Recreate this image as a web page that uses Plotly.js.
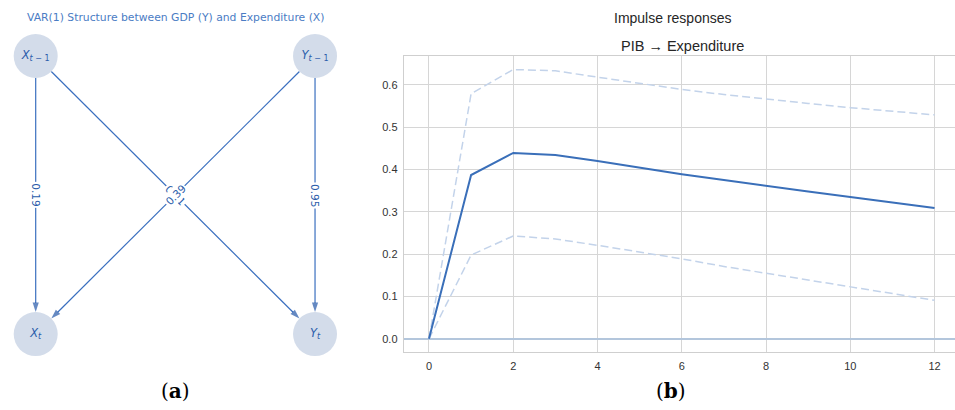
<!DOCTYPE html>
<html>
<head>
<meta charset="utf-8">
<script src="https://cdn.plot.ly/plotly-3.0.1.min.js"></script>
<style>html,body{margin:0;padding:0;background:#fff;overflow:hidden}#chart{width:955px;height:410px}</style>
</head>
<body>
<div id="chart"></div>
<script>
// ---------- Data: impulse responses (PIB -> Expenditure) ----------
const horizons = [0, 1, 2, 3, 4, 5, 6, 7, 8, 9, 10, 11, 12];
const irfMean  = [0, 0.387, 0.439, 0.434, 0.420, 0.404, 0.389, 0.375, 0.361, 0.348, 0.335, 0.322, 0.309];
const irfUpper = [0, 0.579, 0.636, 0.633, 0.618, 0.603, 0.589, 0.577, 0.566, 0.556, 0.546, 0.537, 0.529];
const irfLower = [0, 0.198, 0.243, 0.236, 0.221, 0.205, 0.189, 0.171, 0.155, 0.138, 0.122, 0.106, 0.091];
const xTicks = [0, 2, 4, 6, 8, 10, 12];
const yTicks = [0.0, 0.1, 0.2, 0.3, 0.4, 0.5, 0.6];

// ---------- Data: VAR(1) graph ----------
const nodeLabels = ['<i>X</i><sub><i>t</i> − 1</sub>', '<i>Y</i><sub><i>t</i> − 1</sub>', '<i>X</i><sub><i>t</i></sub>', '<i>Y</i><sub><i>t</i></sub>'];
const nodeX = [0, 1, 0, 1];
const nodeY = [1, 1, 0, 0];
const edgeFrom   = [0, 1, 0, 1];
const edgeTo     = [2, 3, 3, 2];
const edgeWeight = ['0.19', '0.95', '0.01', '0.39'];

const diagramTitle = 'VAR(1) Structure between GDP (Y) and Expenditure (X)';
const mainTitle = 'Impulse responses';
const subTitle = 'PIB → Expenditure';

// ---------- Layout helpers ----------
const W = 955, H = 410;
const px = v => v / W;
const py = v => 1 - v / H;

const blue = '#2a5caa';
const diagFont = 'DejaVu Sans, sans-serif';
const plotFont = 'Liberation Sans, Arial, sans-serif';

// diagram axes (graph layout units)
const x2Range = [-0.1278, 1.161];
const y2Range = [-0.273, 1.2014];
const x2Px = 360, y2Px = H;
const nodeRadiusPx = 22;
const rX = nodeRadiusPx * (x2Range[1] - x2Range[0]) / x2Px;
const rY = nodeRadiusPx * (y2Range[1] - y2Range[0]) / y2Px;

const traces = [
  {x: horizons, y: irfUpper, xaxis: 'x', yaxis: 'y', mode: 'lines',
   line: {color: '#c3d3ea', width: 1.5, dash: '8px,4px'}, hoverinfo: 'skip', showlegend: false},
  {x: horizons, y: irfLower, xaxis: 'x', yaxis: 'y', mode: 'lines',
   line: {color: '#c3d3ea', width: 1.5, dash: '8px,4px'}, hoverinfo: 'skip', showlegend: false},
  {x: horizons, y: irfMean, xaxis: 'x', yaxis: 'y', mode: 'lines',
   line: {color: '#3a6fb9', width: 2}, showlegend: false}
];

// edges: line from node boundary to node boundary, arrow marker at the end
for (let i = 0; i < edgeFrom.length; i++) {
  const a = edgeFrom[i], b = edgeTo[i];
  const dxp = (nodeX[b] - nodeX[a]) * x2Px / (x2Range[1] - x2Range[0]);
  const dyp = (nodeY[b] - nodeY[a]) * y2Px / (y2Range[1] - y2Range[0]);
  const len = Math.hypot(dxp, dyp);
  const ux = dxp / len, uy = dyp / len;
  const x0 = nodeX[a] + ux * rX, y0 = nodeY[a] + uy * rY;
  const x1 = nodeX[b] - ux * rX, y1 = nodeY[b] - uy * rY;
  traces.push({
    x: [x0, x1], y: [y0, y1], xaxis: 'x2', yaxis: 'y2', mode: 'lines+markers',
    line: {color: '#3a6fbf', width: 1.2},
    marker: {symbol: ['circle', 'arrow'], size: [0, 10], color: '#2457a8', angleref: 'previous', line: {width: 0}},
    hoverinfo: 'skip', showlegend: false, cliponaxis: false
  });
}

traces.push({x: nodeX, y: nodeY, xaxis: 'x2', yaxis: 'y2', mode: 'markers+text',
   text: nodeLabels, textposition: 'middle center',
   textfont: {family: diagFont, size: 11.5, color: blue},
   marker: {size: 2 * nodeRadiusPx, color: '#d3dcea', line: {width: 0}}, hoverinfo: 'skip', showlegend: false});

const annotations = [];
// edge labels
for (let i = 0; i < edgeFrom.length; i++) {
  const a = edgeFrom[i], b = edgeTo[i];
  const dx = nodeX[b] - nodeX[a], dy = nodeY[b] - nodeY[a];
  let ang = Math.atan2(dy, dx) * 180 / Math.PI;
  if (ang > 90) ang -= 180;
  if (ang < -90) ang += 180;
  annotations.push({
    xref: 'x2', yref: 'y2', x: (nodeX[a] + nodeX[b]) / 2, y: (nodeY[a] + nodeY[b]) / 2,
    text: edgeWeight[i], showarrow: false, textangle: -ang,
    bgcolor: '#ffffff', borderpad: 1,
    font: {family: diagFont, size: 10.5, color: blue}
  });
}
// titles and panel labels
annotations.push(
  {xref: 'paper', yref: 'paper', x: px(175), y: py(17), text: diagramTitle, showarrow: false,
   xanchor: 'center', yanchor: 'middle', font: {family: diagFont, size: 10.8, color: '#4a7cc4'}},
  {xref: 'paper', yref: 'paper', x: px(673), y: py(18), text: mainTitle, showarrow: false,
   xanchor: 'center', yanchor: 'middle', font: {family: plotFont, size: 14, color: '#262626'}},
  {xref: 'paper', yref: 'paper', x: px(682), y: py(46), text: subTitle, showarrow: false,
   xanchor: 'center', yanchor: 'middle', font: {family: plotFont, size: 14.5, color: '#262626'}},
  {xref: 'paper', yref: 'paper', x: px(175), y: py(391), text: '(<b>a</b>)', showarrow: false,
   xanchor: 'center', yanchor: 'middle', font: {family: 'DejaVu Serif, serif', size: 20, color: '#000'}},
  {xref: 'paper', yref: 'paper', x: px(671), y: py(391), text: '(<b>b</b>)', showarrow: false,
   xanchor: 'center', yanchor: 'middle', font: {family: 'DejaVu Serif, serif', size: 20, color: '#000'}}
);

const gridC = '#d6d6d6';
const layout = {
  width: W, height: H,
  margin: {l: 0, r: 0, t: 0, b: 0},
  paper_bgcolor: '#ffffff', plot_bgcolor: '#ffffff',
  showlegend: false,
  xaxis: {
    domain: [px(403.7), 1], range: [-0.6, 12.486], anchor: 'y',
    tickvals: xTicks, ticktext: xTicks.map(String), ticks: '', ticklabelstandoff: 4,
    showgrid: true, gridcolor: gridC, gridwidth: 1, zeroline: false,
    showline: true, linecolor: '#cfcfcf', linewidth: 1, mirror: true,
    tickfont: {family: plotFont, size: 11, color: '#333'}, fixedrange: true
  },
  yaxis: {
    domain: [1 - 352 / H, 1 - 56 / H], range: [-0.031, 0.668], anchor: 'x',
    tickvals: yTicks, ticktext: yTicks.map(v => v.toFixed(1)), ticks: '', ticklabelstandoff: 3,
    showgrid: true, gridcolor: gridC, gridwidth: 1,
    zeroline: true, zerolinecolor: '#b3c6dc', zerolinewidth: 2.2,
    showline: true, linecolor: '#cfcfcf', linewidth: 1, mirror: false,
    tickfont: {family: plotFont, size: 11, color: '#333'}, fixedrange: true
  },
  xaxis2: {
    domain: [0, px(x2Px)], range: x2Range, anchor: 'y2', visible: false, fixedrange: true
  },
  yaxis2: {
    domain: [0, 1], range: y2Range, anchor: 'x2', visible: false, fixedrange: true
  },
  annotations: annotations
};

Plotly.newPlot('chart', traces, layout, {staticPlot: true, displayModeBar: false});
</script>
</body>
</html>
